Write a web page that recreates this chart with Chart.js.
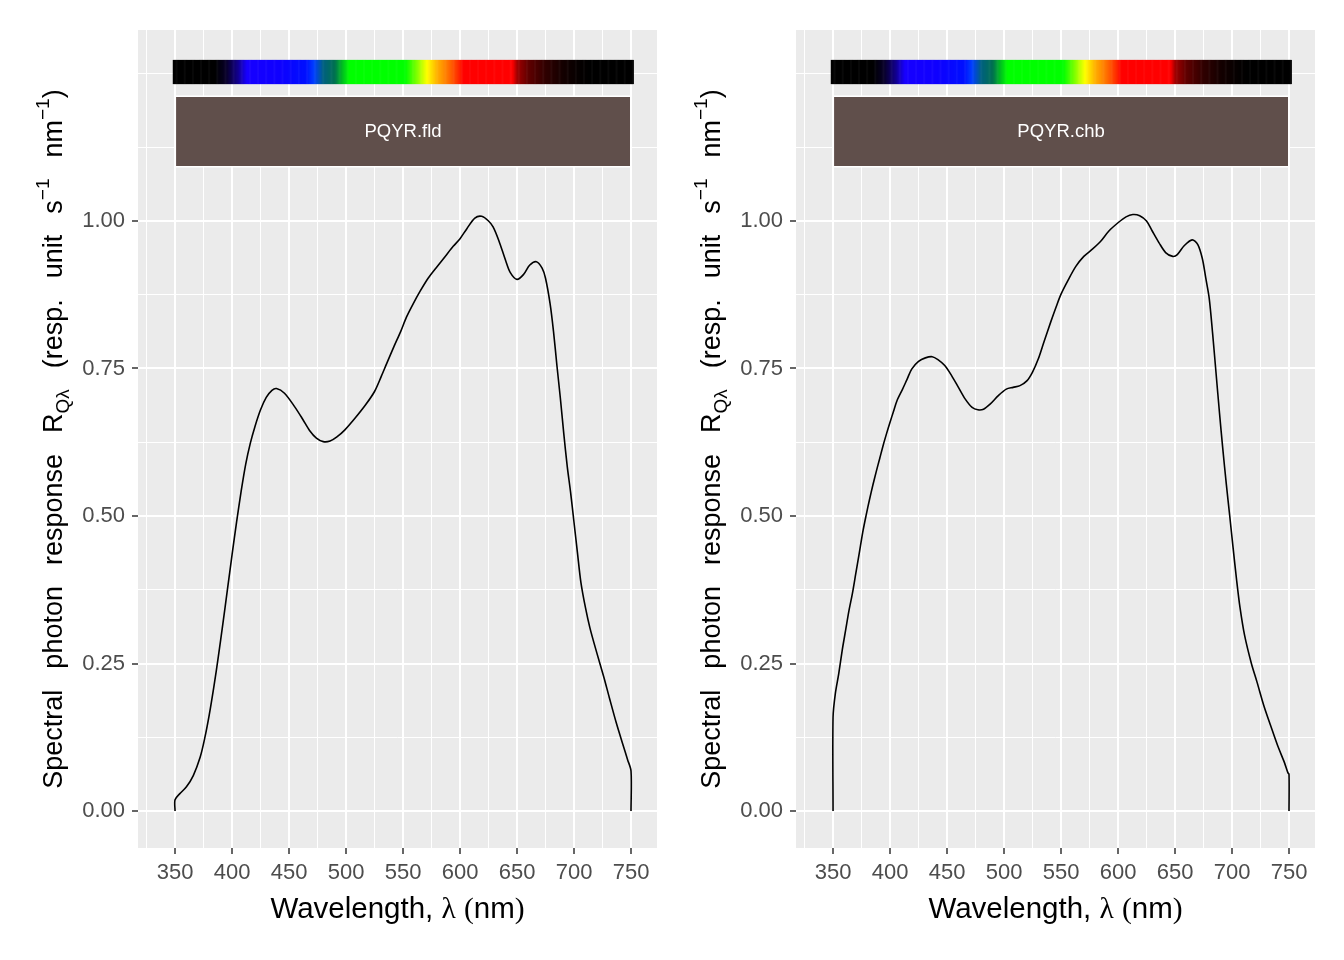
<!DOCTYPE html>
<html>
<head>
<meta charset="utf-8">
<script src="https://cdn.jsdelivr.net/npm/chart.js@4.4.1/dist/chart.umd.min.js"></script>
<style>
  body { margin: 0; background: #fff; width: 1344px; height: 960px; position: relative; overflow: hidden; }
  canvas { position: absolute; top: 0; }
  #c1 { left: 0; }
  #c2 { left: 658px; }
</style>
</head>
<body>
<canvas id="c1" width="672" height="960"></canvas>
<canvas id="c2" width="672" height="960"></canvas>
<script>
// spectral photon response (nm, relative units)
const fldWl = [350, 350, 354, 360, 366, 372, 376, 380, 384, 388, 392, 396, 400, 404, 408, 412, 416, 420, 425, 430,
  435, 439, 446, 455, 462, 468, 474, 480, 486, 492, 499, 508, 517, 525, 531, 536, 542, 548, 553, 559,
  565, 572, 580, 587, 594, 600, 606, 613, 619, 625, 629, 634, 640, 644, 650, 656, 661, 667, 672, 675,
  679, 682, 685, 688, 691, 694, 697, 700, 703, 706, 710, 714, 720, 726, 731, 737, 743, 747, 750, 750];
const fldResp = [0, 0.019, 0.029, 0.041, 0.060, 0.091, 0.123, 0.163, 0.210, 0.262, 0.318, 0.376, 0.434, 0.490, 0.542, 0.588, 0.623, 0.651, 0.680, 0.701,
  0.713, 0.716, 0.708, 0.685, 0.664, 0.645, 0.632, 0.626, 0.627, 0.634, 0.646, 0.666, 0.688, 0.711, 0.737, 0.760, 0.787, 0.813, 0.837, 0.860,
  0.881, 0.903, 0.923, 0.940, 0.957, 0.970, 0.987, 1.005, 1.008, 1.000, 0.990, 0.967, 0.933, 0.913, 0.901, 0.910, 0.925, 0.931, 0.920, 0.903,
  0.860, 0.813, 0.755, 0.700, 0.640, 0.585, 0.540, 0.489, 0.438, 0.388, 0.345, 0.310, 0.268, 0.228, 0.192, 0.150, 0.112, 0.087, 0.068, 0];

const chbWl = [350, 350, 352, 355, 358, 361, 364, 367, 370, 373, 376, 379, 382, 385, 388, 391, 394, 397, 400, 403,
  406, 411, 415, 419, 425, 431, 437, 442, 448, 454, 460, 466, 472, 477, 482, 488, 495, 502, 508, 514,
  520, 525, 530, 535, 541, 546, 550, 556, 563, 570, 578, 585, 592, 600, 607, 613, 619, 625, 630, 636,
  642, 648, 652, 658, 665, 670, 674, 677, 680, 683, 686, 689, 692, 695, 698, 701, 704, 707, 711, 717,
  722, 728, 734, 740, 746, 749, 750, 750];
const chbResp = [0, 0.159, 0.199, 0.233, 0.272, 0.306, 0.340, 0.369, 0.403, 0.437, 0.472, 0.501, 0.528, 0.553, 0.576, 0.598, 0.620, 0.640, 0.659, 0.677,
  0.695, 0.715, 0.732, 0.749, 0.762, 0.768, 0.770, 0.765, 0.755, 0.738, 0.718, 0.698, 0.684, 0.680, 0.681, 0.690, 0.704, 0.715, 0.718, 0.721,
  0.729, 0.744, 0.766, 0.795, 0.829, 0.856, 0.876, 0.899, 0.923, 0.940, 0.953, 0.966, 0.983, 0.997, 1.007, 1.011, 1.009, 1.000, 0.983, 0.963,
  0.946, 0.940, 0.943, 0.958, 0.968, 0.960, 0.936, 0.903, 0.869, 0.809, 0.742, 0.675, 0.612, 0.554, 0.500, 0.445, 0.392, 0.345, 0.298, 0.250,
  0.218, 0.178, 0.144, 0.111, 0.082, 0.065, 0.062, 0];

const panelLabels = ['PQYR.fld', 'PQYR.chb'];

const xTicks = [325, 350, 375, 400, 425, 450, 475, 500, 525, 550, 575, 600, 625, 650, 675, 700, 725, 750];
const xLabelled = [350, 400, 450, 500, 550, 600, 650, 700, 750];
const yTicks = [0, 0.125, 0.25, 0.375, 0.5, 0.625, 0.75, 0.875, 1, 1.125, 1.25];
const yLabelled = [0, 0.25, 0.5, 0.75, 1];

// colour of the wavelength bar, stop by stop
const barStops = [
  [348, '#000000'], [385, '#000000'], [395, '#08002a'], [405, '#12008c'], [413, '#1800ff'],
  [440, '#1000ff'], [465, '#0010ff'], [472, '#0040ff'], [480, '#006080'], [490, '#007050'],
  [497, '#00c020'], [503, '#00ff00'], [552, '#00ff00'], [562, '#80ff00'], [571, '#ffff00'],
  [580, '#ffb000'], [590, '#ff7000'], [598, '#ff3000'], [603, '#ff0000'], [646, '#ff0000'],
  [650, '#a00000'], [660, '#600000'], [675, '#300000'], [690, '#150000'], [705, '#050000'],
  [715, '#000000'], [752, '#000000']
];

const SANS = '"Liberation Sans", Arial, sans-serif';
const SERIF = '"Liberation Serif", "Times New Roman", serif';

function hexRgb(h) {
  return [parseInt(h.slice(1, 3), 16), parseInt(h.slice(3, 5), 16), parseInt(h.slice(5, 7), 16)];
}

function wlColour(w) {
  for (let i = 1; i < barStops.length; i++) {
    if (w <= barStops[i][0]) {
      const [w0, c0] = barStops[i - 1], [w1, c1] = barStops[i];
      const t = (w - w0) / (w1 - w0), a = hexRgb(c0), b = hexRgb(c1);
      return 'rgb(' + a.map((v, k) => Math.round(v + (b[k] - v) * t)).join(',') + ')';
    }
  }
  return '#000000';
}

// y title pieces: text, kind
const yTitle = [
  ['Spectral', 'n'], [21, 'gap'], ['photon', 'n'], [21, 'gap'], ['response', 'n'], [21, 'gap'],
  ['R', 'n'], ['Q\u03bb', 'sub'], [21, 'gap'], ['(resp.', 'n'], [21, 'gap'], ['unit', 'n'], [21, 'gap'],
  ['s', 'n'], ['\u22121', 'sup'], [21, 'gap'], ['nm', 'n'], ['\u22121', 'sup'], [')', 'n']
];

const deco = {
  id: 'deco',
  beforeDraw(chart) {
    const a = chart.chartArea, ctx = chart.ctx;
    ctx.save();
    ctx.fillStyle = '#EBEBEB';
    ctx.fillRect(a.left, a.top, a.right - a.left, a.bottom - a.top);
    ctx.restore();
  },
  beforeDatasetsDraw(chart, args, opts) {
    const xs = chart.scales.x, ys = chart.scales.y, ctx = chart.ctx;
    ctx.save();
    const yTop = ys.getPixelForValue(1.273), yBot = ys.getPixelForValue(1.232);
    for (let w = 348; w < 752; w++) {
      const x0 = xs.getPixelForValue(w), x1 = xs.getPixelForValue(w + 1);
      ctx.fillStyle = wlColour(w + 0.5);
      ctx.fillRect(x0, yTop, x1 - x0 + 0.6, yBot - yTop);
    }
    const bx0 = xs.getPixelForValue(350) + 1, bx1 = xs.getPixelForValue(750) - 1;
    const by0 = ys.getPixelForValue(1.2102), by1 = ys.getPixelForValue(1.0932);
    ctx.fillStyle = '#604F4B';
    ctx.fillRect(bx0, by0, bx1 - bx0, by1 - by0);
    ctx.strokeStyle = '#FFFFFF';
    ctx.lineWidth = 1.5;
    ctx.strokeRect(bx0 - 0.75, by0 - 0.75, bx1 - bx0 + 1.5, by1 - by0 + 1.5);
    ctx.fillStyle = '#FFFFFF';
    ctx.font = '18.5px ' + SANS;
    ctx.textAlign = 'center';
    ctx.textBaseline = 'middle';
    ctx.fillText(opts.label, xs.getPixelForValue(550), (by0 + by1) / 2);
    ctx.restore();
  },
  afterDraw(chart) {
    const a = chart.chartArea, ctx = chart.ctx;
    ctx.save();
    ctx.fillStyle = '#000000';
    // x title
    const fs = 29.5;
    const xt = [['Wavelength, ', SANS], ['\u03bb', SERIF], [' ', SANS], ['(', SERIF], ['nm', SANS], [')', SERIF]];
    let tot = 0;
    xt.forEach(p => { ctx.font = fs + 'px ' + p[1]; tot += ctx.measureText(p[0]).width; });
    let x = (a.left + a.right) / 2 - tot / 2;
    ctx.textBaseline = 'alphabetic';
    ctx.textAlign = 'left';
    xt.forEach(p => {
      ctx.font = fs + 'px ' + p[1];
      ctx.fillText(p[0], x, 918);
      x += ctx.measureText(p[0]).width;
    });
    // y title, rotated
    const ys = 27, ss = 19;
    let len = 0;
    yTitle.forEach(p => {
      if (p[1] === 'gap') { len += p[0]; return; }
      ctx.font = (p[1] === 'n' ? ys : ss) + 'px ' + SANS;
      len += ctx.measureText(p[0]).width;
    });
    ctx.translate(62, (a.top + a.bottom) / 2);
    ctx.rotate(-Math.PI / 2);
    let pos = -len / 2;
    yTitle.forEach(p => {
      if (p[1] === 'gap') { pos += p[0]; return; }
      ctx.font = (p[1] === 'n' ? ys : ss) + 'px ' + SANS;
      const dy = p[1] === 'sub' ? 7 : (p[1] === 'sup' ? -13 : 0);
      ctx.fillText(p[0], pos, dy);
      pos += ctx.measureText(p[0]).width;
    });
    ctx.restore();
  }
};

function makeChart(id, wl, resp, label) {
  return new Chart(document.getElementById(id), {
    type: 'line',
    data: {
      datasets: [{
        data: wl.map((w, i) => ({ x: w, y: resp[i] })),
        borderColor: '#000000',
        borderWidth: 1.6,
        pointRadius: 0,
        tension: 0.3,
        fill: false
      }]
    },
    options: {
      responsive: false,
      animation: false,
      devicePixelRatio: 1,
      layout: { padding: { top: 30, right: 15, left: 0, bottom: 0 } },
      plugins: {
        legend: { display: false },
        tooltip: { enabled: false },
        deco: { label: label }
      },
      scales: {
        x: {
          type: 'linear',
          min: 317.5,
          max: 772.8,
          afterBuildTicks: s => { s.ticks = xTicks.map(v => ({ value: v })); },
          afterFit: s => { s.height = 112; },
          border: { display: false },
          grid: {
            color: '#FFFFFF',
            lineWidth: c => xLabelled.includes(c.tick.value) ? 2 : 1,
            tickColor: c => xLabelled.includes(c.tick.value) ? '#333333' : 'rgba(0,0,0,0)',
            tickWidth: 1.5,
            tickLength: 6
          },
          ticks: {
            autoSkip: false,
            maxRotation: 0,
            padding: 6,
            color: '#4D4D4D',
            font: { size: 22, family: SANS },
            callback: v => xLabelled.includes(v) ? String(v) : ''
          }
        },
        y: {
          type: 'linear',
          min: -0.0627,
          max: 1.3237,
          afterBuildTicks: s => { s.ticks = yTicks.map(v => ({ value: v })); },
          afterFit: s => { s.width = 138; },
          border: { display: false },
          grid: {
            color: '#FFFFFF',
            lineWidth: c => yLabelled.includes(c.tick.value) ? 2 : 1,
            tickColor: c => yLabelled.includes(c.tick.value) ? '#333333' : 'rgba(0,0,0,0)',
            tickWidth: 1.5,
            tickLength: 6
          },
          ticks: {
            autoSkip: false,
            padding: 7,
            color: '#4D4D4D',
            font: { size: 22, family: SANS },
            callback: v => yLabelled.includes(v) ? v.toFixed(2) : ''
          }
        }
      }
    },
    plugins: [deco]
  });
}

makeChart('c1', fldWl, fldResp, panelLabels[0]);
makeChart('c2', chbWl, chbResp, panelLabels[1]);
</script>
</body>
</html>
